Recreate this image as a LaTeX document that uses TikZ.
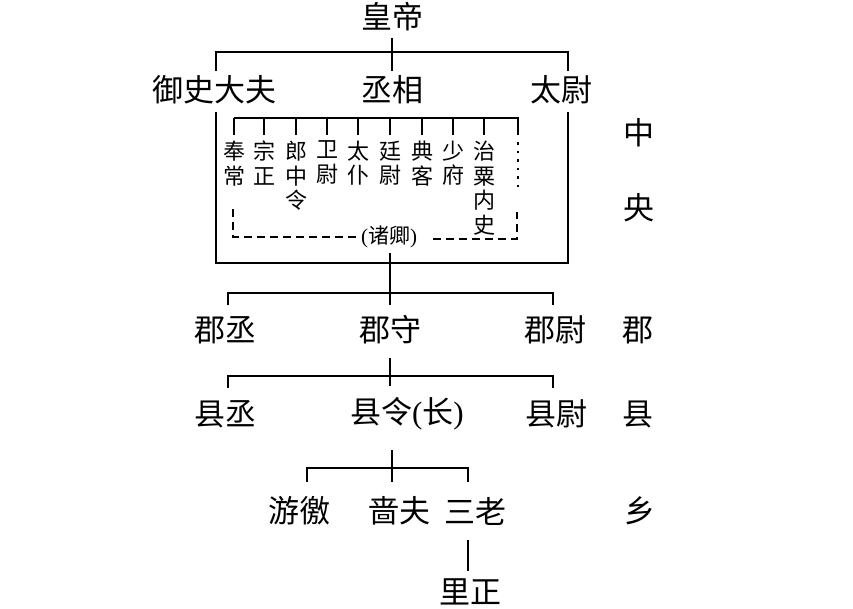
\documentclass[tikz,border=0pt]{standalone}
\usepackage{fontspec}
\setmainfont{Noto Sans CJK SC}
\newfontfamily\ser{Liberation Serif}
\usetikzlibrary{calc}
\begin{document}
\begin{tikzpicture}[x=1pt,y=-1pt,
  big/.style={font=\fontsize{31}{32}\selectfont, inner sep=0pt, outer sep=0pt},
  small/.style={font=\fontsize{22}{24.5}\selectfont, inner sep=0pt, outer sep=0pt, align=center, anchor=north},
  ln/.style={line width=1.5pt},
  dsh/.style={line width=1.5pt, dash pattern=on 8pt off 5pt},
  dts/.style={line width=2.6pt, dash pattern=on 2.6pt off 5.9pt}]
\useasboundingbox (0,0) rectangle (853,608);
\fill[white] (0,0) rectangle (853,608);

% nodes
\node[big] (emp) at (392,17) {皇帝};
\node[big] (ysdf) at (214,90) {御史大夫};
\node[big] (cx) at (392,90) {丞相};
\node[big] (tw) at (561,90) {太尉};
\node[big] (zy1) at (639,133) {中};
\node[big] (zy2) at (639,208) {央};

\node[small] (c1) at (234,141) {奉\\常};
\node[small] (c2) at (264,141) {宗\\正};
\node[small] (c3) at (296,141) {郎\\中\\令};
\node[small] (c4) at (327,141) {卫\\尉};
\node[small] (c5) at (358,141) {太\\仆};
\node[small] (c6) at (390,141) {廷\\尉};
\node[small] (c7) at (422,141) {典\\客};
\node[small] (c8) at (453,141) {少\\府};
\node[small] (c9) at (484,141) {治\\粟\\内\\史};
\node[font=\fontsize{21}{21}\selectfont, inner sep=0pt] (zq) at (389,237) {{\ser(}诸卿{\ser)}};

\node[big] (jc) at (225,330) {郡丞};
\node[big] (js) at (390,330) {郡守};
\node[big] (jw) at (555,330) {郡尉};
\node[big] (jun) at (638,330) {郡};

\node[big] (xc) at (225,414) {县丞};
\node[big, anchor=west] (xl) at (350,414) {县令{\ser(}长{\ser)}};
\node[big] (xw) at (556,414) {县尉};
\node[big] (xian) at (638,414) {县};

\node[big] (yj) at (299,511) {游徼};
\node[big] (sf) at (399,511) {啬夫};
\node[big] (sl) at (475,511) {三老};
\node[big] (xiang) at (640,511) {乡};
\node[big] (lz) at (470,592) {里正};

% coordinates
\coordinate (t1) at (216,52);
\coordinate (t2) at (568,52);
\coordinate (ob1) at (216,112);
\coordinate (ob2) at (216,263);
\coordinate (ob3) at (568,263);
\coordinate (ob4) at (568,112);
\coordinate (ib) at (0,118);
\coordinate (dt) at (518,118);
\coordinate (dtb) at (518,135);
\coordinate (dt1) at (518,142);
\coordinate (dt2) at (518,190);
\coordinate (dl1) at (233,209);
\coordinate (dl2) at (233,237);
\coordinate (dr1) at (433,239);
\coordinate (dr2) at (517,239);
\coordinate (dr3) at (517,212);
\coordinate (b2) at (390,293);
\coordinate (b3) at (390,376);
\coordinate (b4) at (392,468);
\coordinate (sxl) at (307,468);
\coordinate (sx) at (468,468);

% top level
\draw[ln] ($(emp.south)+(0,7)$) -- ($(emp.south |- cx.north)+(0,-5)$);
\draw[ln] ($(ysdf.north -| t1)+(0,-5)$) -- (t1) -- (t2) -- ($(tw.north -| t2)+(0,-5)$);

% outer bracket
\draw[ln] (ob1) -- (ob2) -- (ob3) -- (ob4);

% inner bar
\draw[ln] (c1.north |- ib) -- (dt) -- (dtb);
\foreach \c in {c1,c2,c3,c4,c5,c6,c7,c8,c9}
  \draw[ln] (\c.north |- ib) -- ($(\c.north)+(0,-6)$);
\draw[dts] (dt1) -- (dt2);

% dashed
\draw[dsh] (dl1) -- (dl2) -- ($(zq.west)+(-2,0)$);
\draw[dsh] (dr1) -- (dr2) -- (dr3);

% level 2
\draw[ln] ($(zq.south -| js.north)+(0,5)$) -- ($(js.north)+(0,-11)$);
\draw[ln] ($(jc.north -| 228,0)+(0,-11)$) |- (b2) -| ($(jw.north -| 553,0)+(0,-11)$);

% level 3
\draw[ln] ($(js.south)+(0,14)$) -- ($(js.south |- xl.north)+(0,-12)$);
\draw[ln] ($(xc.north -| 228,0)+(0,-12)$) |- (b3) -| ($(xw.north -| 553,0)+(0,-12)$);

% level 4
\draw[ln] ($(xl.south -| b4)+(0,20)$) -- ($(sf.north -| b4)+(0,-15)$);
\draw[ln] ($(yj.north -| sxl)+(0,-15)$) -- (sxl) -- (sx) -- ($(sl.north -| sx)+(0,-15)$);
\draw[ln] ($(sl.south -| sx)+(0,15)$) -- ($(lz.north -| sx)+(0,-8)$);
\end{tikzpicture}
\end{document}
